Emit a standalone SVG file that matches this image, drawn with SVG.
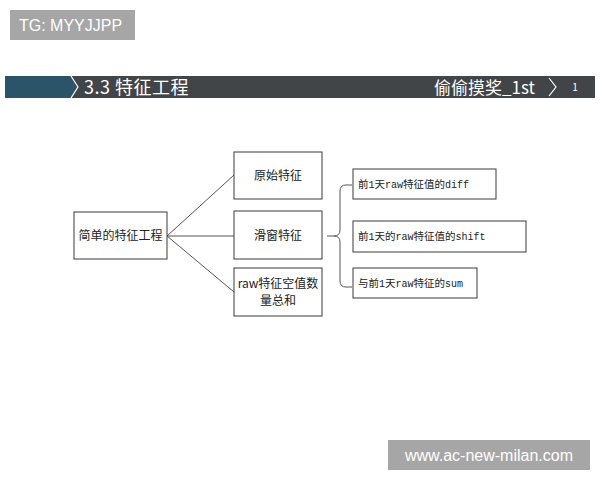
<svg xmlns="http://www.w3.org/2000/svg" width="600" height="480" viewBox="0 0 600 480">
<style>
.box{fill:#fff;stroke:#3a3a3a;stroke-width:1}
.t{font-family:"Noto Sans CJK SC","Noto Sans",sans-serif;font-size:12px;fill:#222}
.s{font-family:"Noto Sans CJK SC","Noto Sans",sans-serif;font-size:10.5px;fill:#222}
.m{font-family:"Liberation Mono","Noto Sans CJK SC",monospace;font-size:10px}
.ln{fill:none;stroke:#555;stroke-width:1}
.wm{fill:#a6a6a6}
.wt{font-family:"Liberation Sans",Arial,sans-serif;font-size:16px;fill:#fff}
.hd{font-family:"Noto Sans CJK SC","Noto Sans",sans-serif;fill:#fff}
</style>
<rect width="600" height="480" fill="#fff"/>
<g id="tg">
<rect class="wm" x="10" y="10" width="125" height="30"/>
<text class="wt" x="19" y="31">TG: MYYJJPP</text>
</g>
<g id="header">
<rect x="5" y="76" width="590" height="22" fill="#414548"/>
<rect x="5" y="76" width="67" height="22" fill="#2c5468"/>
<polygon points="71,76 78,87 71,98 70,98 70,76" fill="#2c5468"/>
<polyline points="71,76 78,87 71,98" fill="none" stroke="#fff" stroke-width="1.2"/>
<text class="hd" x="84" y="94" font-size="18" letter-spacing="0.5">3.3 特征工程</text>
<text class="hd" x="535" y="93.5" font-size="17" text-anchor="end">偷偷摸奖_1st</text>
<polyline points="549,78 556,87 549,96" fill="none" stroke="#fff" stroke-width="1.2"/>
<text class="hd" x="575" y="91" font-size="10" text-anchor="middle">1</text>
</g>
<g id="connectors">
<line class="ln" x1="167" y1="236" x2="234" y2="175"/>
<line class="ln" x1="167" y1="236" x2="234" y2="236"/>
<line class="ln" x1="167" y1="236" x2="234" y2="292"/>
<path class="ln" d="M327,236 H334 Q340,236 340,230 V191 Q340,185 346,185 H352"/>
<path class="ln" d="M334,236 Q340,236 340,242 V281 Q340,287 346,287 H352"/>
</g>
<g id="n-root"><rect class="box" x="74" y="212" width="93" height="47"/><text class="t" x="120.5" y="240" text-anchor="middle">简单的特征工程</text></g>
<g id="n-raw"><rect class="box" x="234" y="152" width="88" height="47"/><text class="t" x="278" y="180" text-anchor="middle">原始特征</text></g>
<g id="n-win"><rect class="box" x="234" y="211" width="88" height="48"/><text class="t" x="278" y="240" text-anchor="middle">滑窗特征</text></g>
<g id="n-null"><rect class="box" x="234" y="268" width="88" height="48"/><text class="t" x="278" y="288" text-anchor="middle" font-size="11.5">raw特征空值数</text><text class="t" x="278" y="305" text-anchor="middle" font-size="11.5">量总和</text></g>
<g id="n-diff"><rect class="box" x="353" y="169" width="143" height="30"/><text class="s" x="358" y="188">前<tspan class="m">1</tspan>天<tspan class="m">raw</tspan>特征值的<tspan class="m">diff</tspan></text></g>
<g id="n-shift"><rect class="box" x="353" y="221" width="173" height="31"/><text class="s" x="358" y="240">前<tspan class="m">1</tspan>天的<tspan class="m">raw</tspan>特征值的<tspan class="m">shift</tspan></text></g>
<g id="n-sum"><rect class="box" x="353" y="268" width="124" height="30"/><text class="s" x="358" y="287">与前<tspan class="m">1</tspan>天<tspan class="m">raw</tspan>特征的<tspan class="m">sum</tspan></text></g>
<g id="wm">
<rect class="wm" x="388" y="440" width="202" height="30"/>
<text class="wt" x="489" y="461" text-anchor="middle" font-size="17">www.ac-new-milan.com</text>
</g>
</svg>
